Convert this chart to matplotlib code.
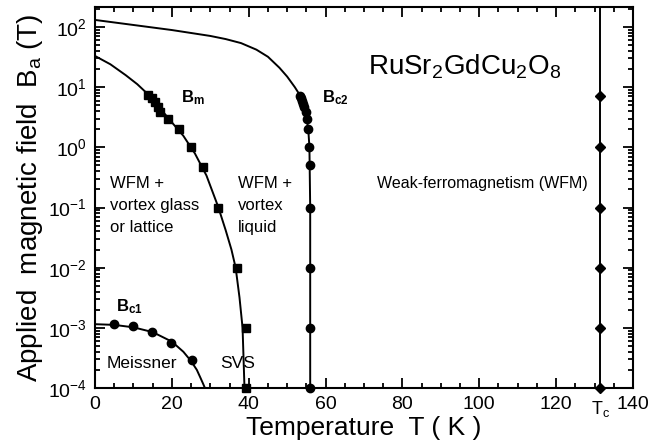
import matplotlib
matplotlib.use("Agg")
import matplotlib.pyplot as plt
from matplotlib.ticker import LogLocator, MultipleLocator, LogFormatterMathtext, NullFormatter, FixedLocator
import numpy as np

plt.rcParams['font.family'] = ['Liberation Sans', 'DejaVu Sans']
plt.rcParams['mathtext.default'] = 'regular'

# measured points
bm_T = [13.9, 14.8, 15.6, 16.5, 16.9, 19.1, 21.9, 25.0, 28.0, 32.1, 37.0, 39.2, 39.2]
bm_B = [7.4, 6.5, 5.7, 4.7, 3.9, 3.0, 2.0, 1.0, 0.48, 0.1, 0.01, 0.001, 0.0001]

bc2_T = [53.3, 53.6, 53.9, 54.2, 54.5, 54.8, 55.1, 55.5, 55.8, 55.9, 56.0, 56.0, 56.0, 56.0]
bc2_B = [7.0, 6.5, 6.0, 5.3, 4.6, 3.9, 3.0, 2.0, 1.0, 0.5, 0.1, 0.01, 0.001, 0.0001]

bc1_T = [4.9, 10.0, 14.9, 19.9, 25.2]
bc1_B = [1.18e-3, 1.08e-3, 8.5e-4, 5.7e-4, 2.9e-4]

tc_T = [131.5] * 6
tc_B = [7.0, 1.0, 0.1, 0.01, 0.001, 0.0001]

# fitted phase boundaries
bm_fit_T = [0, 4, 8, 11, 14, 17, 20, 23, 26, 29, 32, 34, 35.5, 36.6, 37.6, 38.4, 38.9]
bm_fit_B = [33, 24, 15.8, 11.2, 7.4, 4.4, 2.6, 1.55, 0.79, 0.34, 0.105, 0.042, 0.02,
            0.01, 0.0032, 0.001, 0.0001]

bc2_fit_T = [0, 10, 20, 30, 34, 38, 42, 45, 48, 50, 52, 53.3, 54.3, 55.0, 55.5, 55.8, 56.0, 56.0]
bc2_fit_B = [131, 108, 89, 71, 63, 54, 42, 32, 21, 15, 10, 7.4, 5.0, 3.2, 2.0, 1.0, 0.1, 0.0001]

bc1_fit_T = [0, 5, 10, 15, 20, 23, 25, 26.5, 27.5, 28.2, 28.6]
bc1_fit_B = [1.15e-3, 1.12e-3, 1.02e-3, 8.5e-4, 5.9e-4, 4.0e-4, 2.8e-4, 2.0e-4, 1.45e-4, 1.15e-4, 1.0e-4]

tc_line_T = [131.5, 131.5]
tc_line_B = [1e-4, 300]

y_decades = [1e-4, 1e-3, 1e-2, 1e-1, 1e0, 1e1, 1e2]

fig = plt.figure(figsize=(6.49, 4.48), dpi=100)
ax = fig.add_axes([0.1464, 0.1339, 0.8289, 0.8505])

lw = 1.4
ax.plot(bm_fit_T, bm_fit_B, color='black', lw=lw)
ax.plot(bc2_fit_T, bc2_fit_B, color='black', lw=lw)
ax.plot(bc1_fit_T, bc1_fit_B, color='black', lw=lw)
ax.plot(tc_line_T, tc_line_B, color='black', lw=lw)

ax.plot(bm_T, bm_B, 's', color='black', ms=5.5, clip_on=False)
ax.plot(bc2_T, bc2_B, 'o', color='black', ms=6, clip_on=False)
ax.plot(bc1_T, bc1_B, 'o', color='black', ms=6, clip_on=False)
ax.plot(tc_T, tc_B, 'D', color='black', ms=5.5, clip_on=False)

ax.set_yscale('log')
ax.set_xlim(0, 140)
ax.set_ylim(1e-4, 215)

ax.xaxis.set_major_locator(MultipleLocator(20))
ax.xaxis.set_minor_locator(MultipleLocator(5))
ax.yaxis.set_major_locator(FixedLocator(y_decades))
ax.yaxis.set_minor_locator(LogLocator(base=10, subs=np.arange(2, 10), numticks=20))
ax.yaxis.set_major_formatter(LogFormatterMathtext())
ax.yaxis.set_minor_formatter(NullFormatter())

ax.tick_params(which='both', direction='in', top=True, right=True, width=1.3,
               labelsize=14)
ax.tick_params(which='major', length=7, pad=6)
ax.tick_params(which='minor', length=3.5)
for s in ax.spines.values():
    s.set_linewidth(1.5)

ax.set_xlabel('Temperature  T ( K )', fontsize=19, labelpad=2)
ax.set_ylabel('Applied  magnetic field  B$_a$ (T)', fontsize=20, labelpad=2)

ax.text(71, 22, 'RuSr$_2$GdCu$_2$O$_8$', fontsize=20, va='center', ha='left')
ax.text(22.5, 5.5, 'B$_m$', fontsize=12, fontweight='bold')
ax.text(59, 5.5, 'B$_{c2}$', fontsize=12, fontweight='bold')
ax.text(5.5, 1.9e-3, 'B$_{c1}$', fontsize=12, fontweight='bold')

region_kw = dict(fontsize=12, va='top', ha='left', linespacing=1.55)
ax.text(4, 0.33, 'WFM +\nvortex glass\nor lattice', **region_kw)
ax.text(37.2, 0.33, 'WFM +\nvortex\nliquid', **region_kw)
ax.text(73.4, 0.25, 'Weak-ferromagnetism (WFM)', fontsize=11.5, va='center', ha='left')
ax.text(3, 2.6e-4, 'Meissner', fontsize=12.5, va='center', ha='left')
ax.text(32.5, 2.6e-4, 'SVS', fontsize=12.5, va='center', ha='left')

ax.annotate('T$_c$', xy=(131.5, 0), xycoords=('data', 'axes fraction'),
            xytext=(0, -8), textcoords='offset points', ha='center', va='top',
            fontsize=13)

fig.savefig('out.png', dpi=100)
